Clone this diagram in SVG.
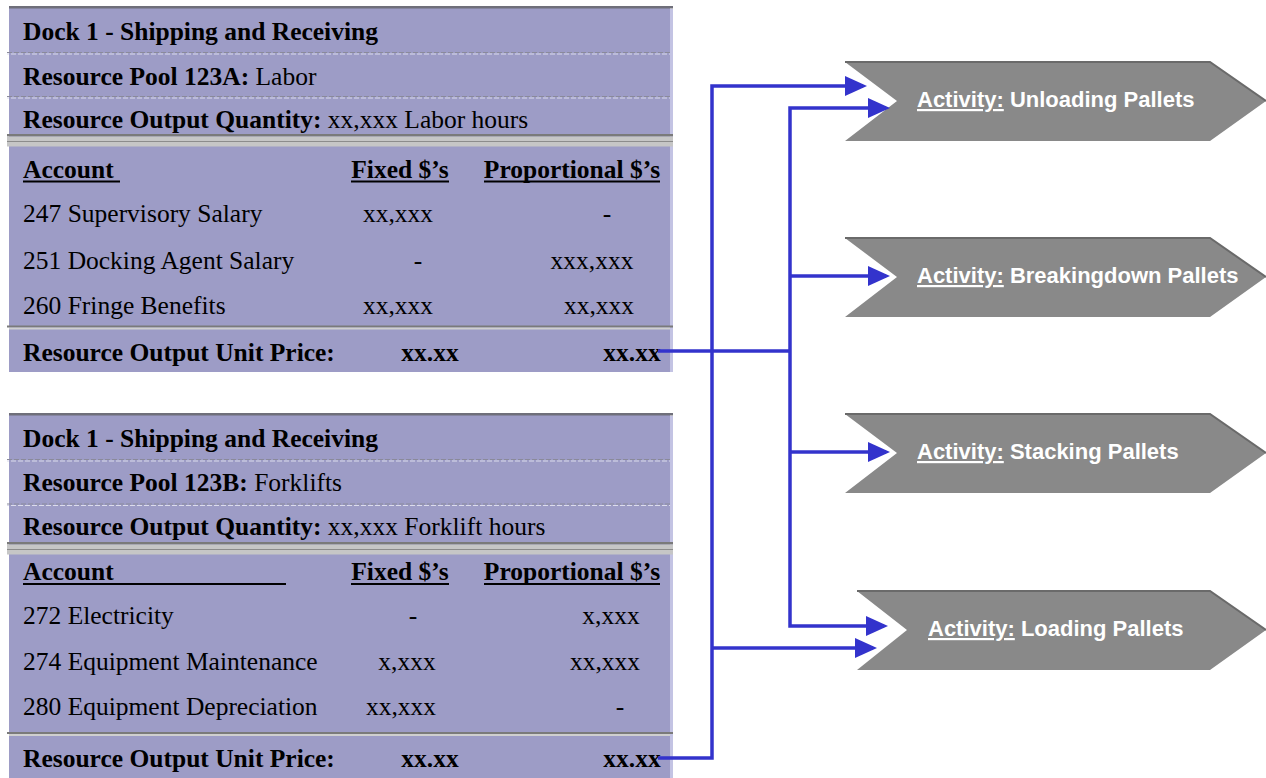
<svg xmlns="http://www.w3.org/2000/svg" width="1266" height="778" viewBox="0 0 1266 778">
<defs>
<style>
.box{fill:#9d9cc6}
.edge{fill:#c3c3e3}
.topb{fill:#6f6f7a}
.dash1{stroke:#8a8a9a;stroke-width:1.2;stroke-dasharray:5 2}
.dash2{stroke:#dcdcec;stroke-width:1.2;stroke-dasharray:5 2;stroke-dashoffset:3}
.t{font-family:"Liberation Serif","Times New Roman",serif;font-size:25.5px;fill:#000}
.b{font-weight:bold}
.ul{stroke:#000;stroke-width:2}
.conn{fill:none;stroke:#3333cc;stroke-width:3.5}
.chev{fill:#898989}
.chevtop{fill:none;stroke:#6a6a6a;stroke-width:2}
.a{font-family:"Liberation Sans",Arial,sans-serif;font-size:22px;font-weight:bold;fill:#fff}
.u{text-decoration:underline}
</style>
<marker id="arr" markerUnits="userSpaceOnUse" markerWidth="22" markerHeight="20" refX="18" refY="10" orient="auto-start-reverse">
<path d="M0,0 L22,10 L0,20 z" fill="#3333cc"/>
</marker>
</defs>
<rect width="1266" height="778" fill="#fff"/>

<g id="pool-123A">
<rect class="box" x="9" y="7" width="661" height="365"/>
<rect class="edge" x="670" y="9" width="3" height="363"/>
<rect class="topb" x="9" y="6" width="664" height="2.5"/>
<line class="dash1" x1="7" y1="52.5" x2="670" y2="52.5"/>
<line class="dash2" x1="7" y1="54" x2="670" y2="54"/>
<line class="dash1" x1="7" y1="96.5" x2="670" y2="96.5"/>
<line class="dash2" x1="7" y1="98" x2="670" y2="98"/>
<rect x="7" y="134" width="666" height="2.5" fill="#7a7a7a"/>
<rect x="7" y="136.5" width="666" height="10" fill="#c6c6c6"/>
<line x1="7" y1="141.5" x2="673" y2="141.5" stroke="#8c8c8c" stroke-width="1"/>
<rect x="7" y="325.5" width="666" height="2" fill="#7a7a7a"/>
<rect x="9" y="327.5" width="661" height="2" fill="#cfcfcf"/>
<text class="t b" x="23" y="40">Dock 1 - Shipping and Receiving</text>
<text class="t" x="23" y="85"><tspan class="b">Resource Pool 123A:</tspan> Labor</text>
<text class="t" x="23" y="128"><tspan class="b">Resource Output Quantity:</tspan> xx,xxx Labor hours</text>
<text class="t b" x="23" y="177.5">Account</text>
<line class="ul" x1="23" y1="181.5" x2="120" y2="181.5"/>
<text class="t b" x="400" y="177.5" text-anchor="middle">Fixed $’s</text>
<line class="ul" x1="351" y1="181.5" x2="449" y2="181.5"/>
<text class="t b" x="572" y="177.5" text-anchor="middle">Proportional $’s</text>
<line class="ul" x1="484" y1="181.5" x2="660" y2="181.5"/>
<text class="t" x="23" y="222">247 Supervisory Salary</text>
<text class="t" x="398" y="222" text-anchor="middle">xx,xxx</text>
<text class="t" x="607" y="222" text-anchor="middle">-</text>
<text class="t" x="23" y="268.5">251 Docking Agent Salary</text>
<text class="t" x="418" y="268.5" text-anchor="middle">-</text>
<text class="t" x="592" y="268.5" text-anchor="middle">xxx,xxx</text>
<text class="t" x="23" y="314">260 Fringe Benefits</text>
<text class="t" x="398" y="314" text-anchor="middle">xx,xxx</text>
<text class="t" x="599" y="314" text-anchor="middle">xx,xxx</text>
<text class="t b" x="23" y="360.5">Resource Output Unit Price:</text>
<text class="t b" x="430" y="360.5" text-anchor="middle">xx.xx</text>
<text class="t b" x="632" y="360.5" text-anchor="middle">xx.xx</text>
</g>

<g id="pool-123B">
<rect class="box" x="9" y="414" width="661" height="364"/>
<rect class="edge" x="670" y="416" width="3" height="362"/>
<rect class="topb" x="9" y="413" width="664" height="2.5"/>
<line class="dash1" x1="7" y1="459.5" x2="670" y2="459.5"/>
<line class="dash2" x1="7" y1="461" x2="670" y2="461"/>
<line class="dash1" x1="7" y1="504" x2="670" y2="504"/>
<line class="dash2" x1="7" y1="505.5" x2="670" y2="505.5"/>
<rect x="7" y="542" width="666" height="2.5" fill="#7a7a7a"/>
<rect x="7" y="544.5" width="666" height="10" fill="#c6c6c6"/>
<line x1="7" y1="549.5" x2="673" y2="549.5" stroke="#8c8c8c" stroke-width="1"/>
<rect x="7" y="732" width="666" height="2" fill="#7a7a7a"/>
<rect x="9" y="734" width="661" height="2" fill="#cfcfcf"/>
<text class="t b" x="23" y="446.5">Dock 1 - Shipping and Receiving</text>
<text class="t" x="23" y="490.5"><tspan class="b">Resource Pool 123B:</tspan> Forklifts</text>
<text class="t" x="23" y="535"><tspan class="b">Resource Output Quantity:</tspan> xx,xxx Forklift hours</text>
<text class="t b" x="23" y="580">Account</text>
<line class="ul" x1="23" y1="584" x2="286" y2="584"/>
<text class="t b" x="400" y="580" text-anchor="middle">Fixed $’s</text>
<line class="ul" x1="351" y1="584" x2="449" y2="584"/>
<text class="t b" x="572" y="580" text-anchor="middle">Proportional $’s</text>
<line class="ul" x1="484" y1="584" x2="660" y2="584"/>
<text class="t" x="23" y="623.5">272 Electricity</text>
<text class="t" x="413" y="623.5" text-anchor="middle">-</text>
<text class="t" x="611" y="623.5" text-anchor="middle">x,xxx</text>
<text class="t" x="23" y="669.5">274 Equipment Maintenance</text>
<text class="t" x="407" y="669.5" text-anchor="middle">x,xxx</text>
<text class="t" x="605" y="669.5" text-anchor="middle">xx,xxx</text>
<text class="t" x="23" y="715">280 Equipment Depreciation</text>
<text class="t" x="401" y="715" text-anchor="middle">xx,xxx</text>
<text class="t" x="620" y="715" text-anchor="middle">-</text>
<text class="t b" x="23" y="766.5">Resource Output Unit Price:</text>
<text class="t b" x="430" y="766.5" text-anchor="middle">xx.xx</text>
<text class="t b" x="632" y="766.5" text-anchor="middle">xx.xx</text>
</g>

<g id="act-unloading">
<polygon class="chev" points="845,62 1210,62 1266,101 1210,141 845,141 897,101"/>
<polyline class="chevtop" points="845,62 1210,62 1266,101"/>
<text class="a" x="917" y="107"><tspan class="u">Activity:</tspan> Unloading Pallets</text>
</g>
<g id="act-breakingdown">
<polygon class="chev" points="845,238 1210,238 1266,277 1210,317 845,317 897,277"/>
<polyline class="chevtop" points="845,238 1210,238 1266,277"/>
<text class="a" x="917" y="283"><tspan class="u">Activity:</tspan> Breakingdown Pallets</text>
</g>
<g id="act-stacking">
<polygon class="chev" points="845,414 1210,414 1266,453 1210,493 845,493 897,453"/>
<polyline class="chevtop" points="845,414 1210,414 1266,453"/>
<text class="a" x="917" y="459"><tspan class="u">Activity:</tspan> Stacking Pallets</text>
</g>
<g id="act-loading">
<polygon class="chev" points="857,591 1210,591 1266,630 1210,670 857,670 907,630"/>
<polyline class="chevtop" points="857,591 1210,591 1266,630"/>
<text class="a" x="928" y="636"><tspan class="u">Activity:</tspan> Loading Pallets</text>
</g>

<g id="connectors">
<path class="conn" d="M658,351 H790"/>
<path class="conn" d="M886,108 H790 V626 H884" marker-start="url(#arr)" marker-end="url(#arr)"/>
<path class="conn" d="M790,276 H886" marker-end="url(#arr)"/>
<path class="conn" d="M790,452 H886" marker-end="url(#arr)"/>
<path class="conn" d="M658,758 H712 V86 H863" marker-end="url(#arr)"/>
<path class="conn" d="M712,648 H873" marker-end="url(#arr)"/>
</g>
</svg>
